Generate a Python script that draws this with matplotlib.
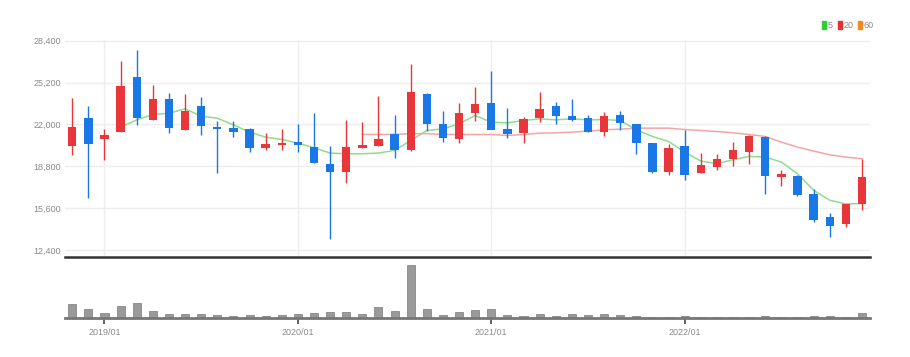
import matplotlib
matplotlib.use("Agg")
import matplotlib.pyplot as plt
import numpy as np
import pandas as pd

plt.rcParams['font.family'] = ['Liberation Sans', 'DejaVu Sans']

# monthly candles 2018/11 .. 2022/12
months = pd.period_range('2018-11', '2022-12', freq='M').strftime('%Y/%m').tolist()

opens = [20400, 22500, 20910, 21470, 25600, 22360, 23900, 21620, 23400, 21780,
         21720, 21600, 20250, 20450, 20630, 20220, 18950, 18370, 20220, 20350,
         21210, 20090, 24290, 22000, 20910, 22890, 23630, 21620, 21390, 22510,
         23420, 22610, 22430, 21420, 22660, 22030, 20530, 18370, 20300, 18290,
         18800, 19380, 19940, 21030, 18040, 18060, 16640, 14910, 14400, 15950]
highs = [24000, 23400, 21640, 26830, 27710, 25020, 24390, 24340, 24130, 22300,
         22300, 21750, 21340, 21670, 22050, 22890, 20320, 22360, 22180, 24210,
         22760, 26620, 24390, 23020, 23630, 24900, 26110, 23240, 22560, 24460,
         23700, 23960, 22690, 22990, 23070, 22050, 20600, 20480, 21590, 19820,
         19710, 20700, 21160, 21090, 18490, 18160, 17100, 15240, 15950, 19380]
lows = [19640, 16410, 19260, 21420, 21970, 22350, 21340, 21600, 21210, 18320,
        21030, 19870, 20070, 20070, 19890, 19050, 13210, 17530, 20220, 20350,
        19460, 19940, 21540, 20700, 20580, 22250, 21620, 20980, 20580, 22180,
        22050, 22250, 21420, 21090, 21590, 19760, 18290, 18110, 17780, 18290,
        18490, 18800, 19000, 16670, 17280, 16540, 14510, 13410, 14130, 15450]
closes = [21800, 20530, 21140, 24900, 22500, 23900, 21770, 22990, 21950, 21720,
          21420, 20250, 20450, 20580, 20480, 19050, 18370, 20270, 20430, 20830,
          20090, 24460, 22050, 21030, 22860, 23520, 21620, 21290, 22410, 23170,
          22660, 22360, 21490, 22610, 22150, 20600, 18420, 20150, 18190, 18880,
          19310, 20020, 21110, 18110, 18160, 16640, 14760, 14250, 15880, 17990]
volumes = [43, 28, 16, 36, 46, 22, 13, 11, 13, 8,
           6, 8, 6, 8, 12, 16, 18, 18, 13, 33,
           22, 160, 26, 8, 18, 23, 28, 8, 6, 13,
           6, 13, 8, 13, 8, 6, 3, 3, 5, 3,
           3, 3, 3, 6, 3, 3, 6, 6, 3, 16]

ma5 = [None, None, None, 21800, 22355, 22761, 22863, 23193, 22634, 22482,
       21974, 21415, 21034, 20856, 20577, 20221, 19815, 19764, 19764, 19815,
       20018, 20780, 21542, 21669, 22050, 22685, 22177, 22126, 22304, 22431,
       22355, 22431, 22355, 22380, 22304, 21593, 21085, 20700, 19891, 19205,
       19002, 19307, 19561, 19510, 19129, 18240, 16970, 16208, 15929, 15954]
ma20 = [None] * 18 + [21240, 21240, 21240, 21300, 21300, 21240, 21240, 21237,
                      21237, 21161, 21237, 21339, 21360, 21415, 21491, 21593,
                      21644, 21720, 21720, 21720, 21618, 21542, 21466, 21364,
                      21237, 21085, 20653, 20272, 19967, 19688, 19510, 19383]

year_ticks = ['2019/01', '2020/01', '2021/01', '2022/01']
price_ticks = [12400, 15600, 18800, 22000, 25200, 28400]

RED = '#e8363b'
BLUE = '#1a78e6'
GREY_TXT = '#8a8a8a'
W, H = 910, 357

fig = plt.figure(figsize=(W / 100, H / 100), dpi=100)
ax = fig.add_axes([65 / W, (H - 257) / H, 805 / W, 217 / H])
axv = fig.add_axes([65 / W, (H - 318) / H, 805 / W, 56 / H])

x = np.arange(len(months))
o = np.array(opens); c = np.array(closes)
up = c >= o
cols = np.where(up, RED, BLUE)

ax.vlines(x, lows, highs, colors=cols, lw=1, zorder=3)
ax.bar(x, np.abs(c - o) + 60, bottom=np.minimum(o, c) - 30, width=0.52,
       color=cols, zorder=4)

m5 = np.array([np.nan if v is None else v for v in ma5], float)
m20 = np.array([np.nan if v is None else v for v in ma20], float)
ax.plot(x, m5, color='#8fdc8f', lw=1.1, zorder=2)
ax.plot(x, m20, color='#f5a5a5', lw=1.1, zorder=2)

ax.set_xlim(-0.45, len(months) - 0.5)
ax.set_ylim(11870, 28460)
ax.set_yticks(price_ticks)
ax.set_yticklabels([f'{v:,}' for v in price_ticks])
ax.tick_params(axis='y', length=0, pad=3, labelsize=6.5, labelcolor=GREY_TXT)
ax.tick_params(axis='x', length=0, labelbottom=False)
tick_pos = [months.index(t) for t in year_ticks]
ax.set_xticks(tick_pos)
for v in price_ticks:
    ax.axhline(v, color='#eeeeee', lw=1, zorder=0)
for p in tick_pos:
    ax.axvline(p, color='#eeeeee', lw=1, zorder=0)
for s in ['top', 'right', 'left']:
    ax.spines[s].set_visible(False)
ax.spines['bottom'].set_color('#333333')
ax.spines['bottom'].set_linewidth(1.8)

# volume panel
axv.bar(x, volumes, width=0.5, color='#9a9a9a', edgecolor='#7a7a7a', lw=0.5)
axv.set_xlim(ax.get_xlim())
axv.set_ylim(0, 169)
axv.set_yticks([])
axv.set_xticks(tick_pos)
axv.set_xticklabels(year_ticks)
axv.tick_params(axis='x', length=4, width=1.2, color='#444444', pad=3,
                labelsize=6.5, labelcolor=GREY_TXT)
for s in ['top', 'right', 'left']:
    axv.spines[s].set_visible(False)
axv.spines['bottom'].set_color('#777777')
axv.spines['bottom'].set_linewidth(2)

# legend at top right
items = [('5', '#33cc33'), ('20', '#e83030'), ('60', '#f08a20')]
lx = 822
for lab, col in items:
    fig.patches.append(plt.Rectangle((lx / W, (H - 29) / H), 4 / W, 8 / H,
                                     transform=fig.transFigure, color=col))
    fig.text((lx + 6) / W, (H - 25) / H, lab, fontsize=6.5, color=GREY_TXT,
             va='center', ha='left')
    lx += 6 + 4 * len(lab) + 6

fig.savefig('out.png', dpi=100, facecolor='white')
